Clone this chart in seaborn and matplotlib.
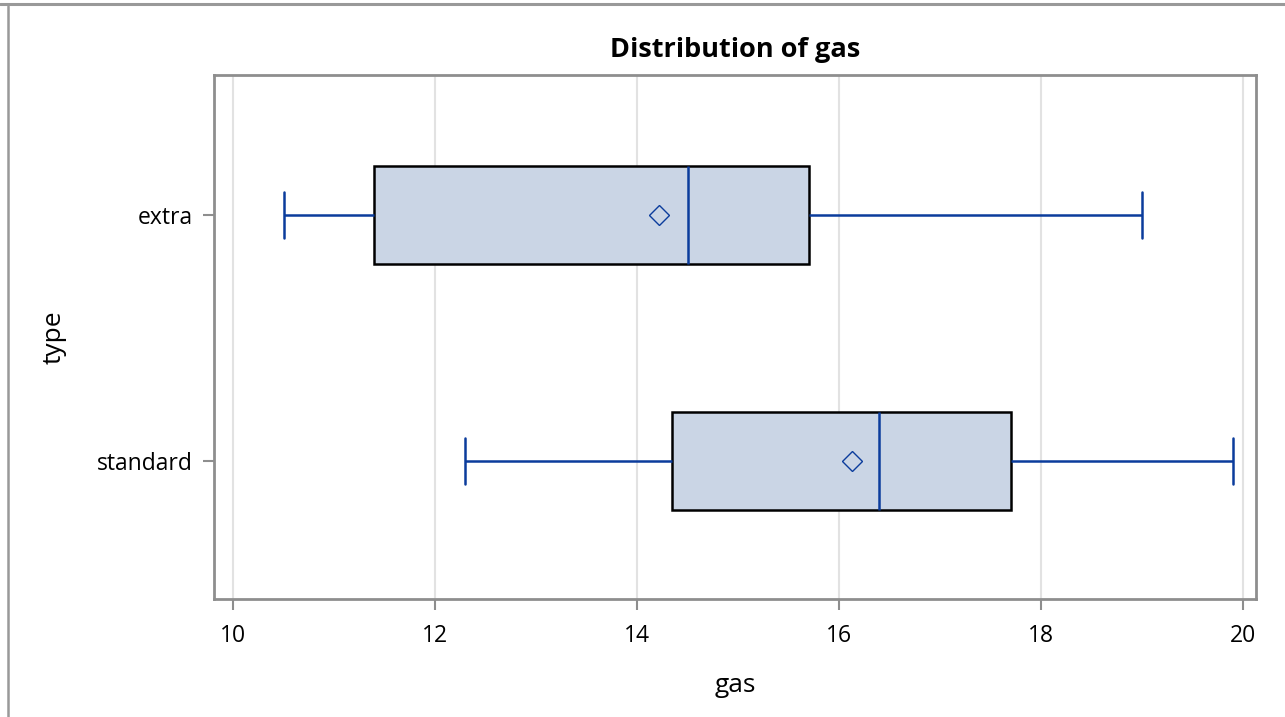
import matplotlib
matplotlib.use("Agg")
import matplotlib.pyplot as plt
import matplotlib.lines as mlines
import seaborn as sns
import pandas as pd

# five values per group: min, Q1, median, Q3, max
types = ["extra", "standard"]
extra_gas = [10.5, 11.4, 14.5, 15.7, 19.0]
standard_gas = [12.3, 14.35, 16.4, 17.7, 19.9]
xticks = [10, 12, 14, 16, 18, 20]

df = pd.DataFrame({
    "type": ["extra"] * len(extra_gas) + ["standard"] * len(standard_gas),
    "gas": extra_gas + standard_gas,
})

sns.set_theme(style="white")
plt.rcParams["font.family"] = ["Open Sans", "DejaVu Sans"]
plt.rcParams["text.color"] = "black"
plt.rcParams["axes.labelcolor"] = "black"

blue = "#0b3c9c"
fill = "#cad5e5"
frame = "#8e8e8e"

fig = plt.figure(figsize=(12.85, 7.17), dpi=100)
ax = fig.add_axes([0.1665, 0.1646, 0.8109, 0.7308])

sns.boxplot(data=df, x="gas", y="type", order=types, ax=ax,
            width=0.4, whis=(0, 100), showmeans=True, color=fill,
            linewidth=1.8, capwidths=0.19,
            boxprops=dict(facecolor=fill, edgecolor="black", linewidth=1.8),
            whiskerprops=dict(color=blue, linewidth=1.8),
            capprops=dict(color=blue, linewidth=1.8),
            medianprops=dict(color=blue, linewidth=1.8),
            meanprops=dict(marker="D", markerfacecolor="none",
                           markeredgecolor=blue, markersize=10,
                           markeredgewidth=1.0))

ax.set_xlim(9.81, 20.13)
ax.set_ylim(1.561, -0.569)
ax.set_xticks(xticks)
ax.set_xticklabels([str(t) for t in xticks])
ax.grid(axis="x", color="#e2e2e2", linewidth=1.5)
ax.set_axisbelow(True)
for sp in ax.spines.values():
    sp.set_color(frame)
    sp.set_linewidth(2)
ax.tick_params(axis="both", which="major", direction="out", length=8,
               width=1.5, color=frame, labelsize=16.5, labelcolor="black",
               left=True, bottom=True)
ax.tick_params(axis="x", pad=10)
ax.tick_params(axis="y", pad=7)

ax.set_title("Distribution of gas", fontsize=19.5, fontweight="bold",
             pad=13, color="black")
ax.set_xlabel("gas", fontsize=19, labelpad=18)
ax.set_ylabel("type", fontsize=19, labelpad=22)

# page border lines
fig.add_artist(mlines.Line2D([0, 1], [0.9944, 0.9944], color="#999999",
                             linewidth=2.2, transform=fig.transFigure))
fig.add_artist(mlines.Line2D([0.0066, 0.0066], [0, 0.992], color="#999999",
                             linewidth=1.8, transform=fig.transFigure))

fig.savefig("out.png", dpi=100)
